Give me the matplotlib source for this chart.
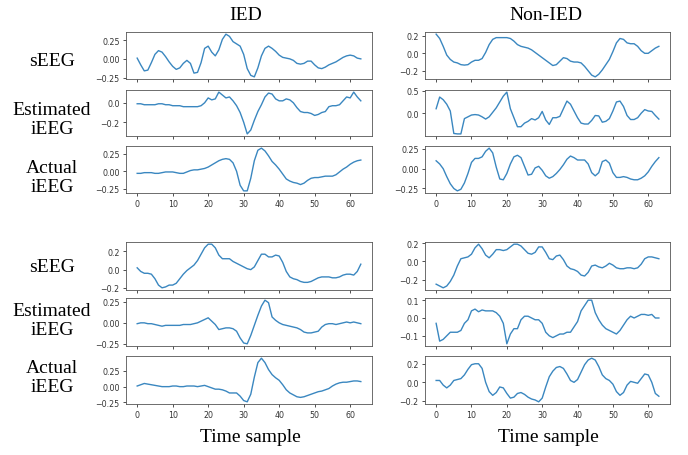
import matplotlib
matplotlib.use("Agg")
import matplotlib.pyplot as plt
import numpy as np

# ── Data: 64-sample traces ───────────────────────────────────────────────────
t = np.arange(64)

ied_seeg_1 = [0.01, -0.08, -0.16, -0.15, -0.05, 0.06, 0.11, 0.09, 0.03, -0.04,
              -0.10, -0.14, -0.12, -0.06, -0.02, -0.06, -0.19, -0.18, -0.05, 0.14,
              0.17, 0.09, 0.04, 0.12, 0.26, 0.33, 0.30, 0.23, 0.20, 0.17,
              0.06, -0.13, -0.22, -0.24, -0.12, 0.04, 0.14, 0.17, 0.14, 0.10,
              0.05, 0.02, 0.01, 0.00, -0.02, -0.06, -0.07, -0.06, -0.03, -0.03,
              -0.08, -0.12, -0.13, -0.11, -0.08, -0.06, -0.04, -0.01, 0.02, 0.04,
              0.05, 0.04, 0.01, 0.00]
non_seeg_1 = [0.22, 0.17, 0.08, -0.02, -0.07, -0.10, -0.11, -0.13, -0.135, -0.13,
              -0.10, -0.08, -0.08, -0.06, 0.01, 0.10, 0.16, 0.18, 0.18, 0.18,
              0.18, 0.17, 0.14, 0.10, 0.08, 0.07, 0.06, 0.04, 0.01, -0.02,
              -0.05, -0.08, -0.11, -0.14, -0.13, -0.09, -0.05, -0.06, -0.09, -0.10,
              -0.10, -0.11, -0.15, -0.20, -0.25, -0.27, -0.24, -0.19, -0.13, -0.07,
              0.02, 0.12, 0.17, 0.16, 0.12, 0.11, 0.11, 0.08, 0.03, 0.00,
              0.00, 0.03, 0.06, 0.08]
ied_est_1 = [-0.01, -0.01, -0.02, -0.02, -0.02, -0.02, -0.01, -0.01, -0.02, -0.02,
             -0.03, -0.03, -0.03, -0.04, -0.04, -0.04, -0.04, -0.04, -0.03, 0.00,
             0.05, 0.03, 0.04, 0.11, 0.08, 0.05, 0.06, 0.02, -0.03, -0.10,
             -0.20, -0.32, -0.28, -0.18, -0.09, -0.02, 0.06, 0.10, 0.09, 0.04,
             0.02, 0.02, 0.04, 0.03, 0.00, -0.05, -0.09, -0.10, -0.10, -0.11,
             -0.13, -0.12, -0.10, -0.09, -0.04, -0.03, -0.03, -0.02, 0.02, 0.06,
             0.05, 0.11, 0.06, 0.02]
non_est_1 = [0.10, 0.36, 0.30, 0.20, 0.05, -0.45, -0.46, -0.46, -0.12, -0.08,
             -0.04, -0.03, -0.04, -0.08, -0.13, -0.08, 0.02, 0.12, 0.25, 0.38,
             0.47, 0.10, -0.10, -0.30, -0.30, -0.22, -0.18, -0.12, -0.15, -0.10,
             0.04, -0.15, -0.25, -0.10, -0.10, -0.07, 0.10, 0.27, 0.20, 0.05,
             -0.10, -0.22, -0.24, -0.24, -0.16, -0.05, -0.06, -0.20, -0.18, -0.12,
             0.05, 0.25, 0.27, 0.15, -0.05, -0.14, -0.14, -0.10, 0.00, 0.08,
             0.05, 0.04, -0.05, -0.13]
ied_act_1 = [-0.03, -0.03, -0.02, -0.02, -0.02, -0.03, -0.03, -0.02, -0.01, -0.01,
             -0.01, -0.02, -0.03, -0.03, -0.01, 0.01, 0.02, 0.02, 0.03, 0.04,
             0.06, 0.09, 0.12, 0.15, 0.17, 0.18, 0.17, 0.12, 0.00, -0.20,
             -0.28, -0.28, -0.10, 0.15, 0.30, 0.33, 0.29, 0.22, 0.14, 0.09,
             0.03, -0.04, -0.11, -0.14, -0.16, -0.17, -0.19, -0.17, -0.13, -0.10,
             -0.09, -0.09, -0.08, -0.07, -0.07, -0.07, -0.05, -0.01, 0.03, 0.06,
             0.10, 0.13, 0.15, 0.16]
non_act_1 = [0.10, 0.06, 0.00, -0.10, -0.19, -0.25, -0.28, -0.26, -0.18, -0.06,
             0.08, 0.13, 0.13, 0.15, 0.22, 0.26, 0.20, 0.02, -0.13, -0.14,
             -0.06, 0.06, 0.15, 0.17, 0.14, 0.03, -0.08, -0.07, 0.01, 0.03,
             -0.02, -0.09, -0.12, -0.10, -0.06, -0.01, 0.05, 0.12, 0.16, 0.14,
             0.11, 0.11, 0.11, 0.06, -0.05, -0.09, -0.05, 0.09, 0.11, 0.07,
             -0.05, -0.11, -0.11, -0.10, -0.11, -0.13, -0.14, -0.14, -0.12, -0.09,
             -0.04, 0.03, 0.09, 0.14]

ied_seeg_2 = [0.02, -0.02, -0.04, -0.04, -0.05, -0.10, -0.17, -0.20, -0.19, -0.17,
              -0.17, -0.15, -0.10, -0.05, -0.01, 0.02, 0.05, 0.10, 0.17, 0.24,
              0.28, 0.28, 0.24, 0.16, 0.12, 0.12, 0.12, 0.09, 0.07, 0.05,
              0.03, 0.01, 0.00, 0.03, 0.10, 0.17, 0.17, 0.14, 0.14, 0.16,
              0.15, 0.08, -0.02, -0.08, -0.10, -0.11, -0.13, -0.14, -0.14, -0.13,
              -0.11, -0.09, -0.08, -0.08, -0.08, -0.09, -0.09, -0.08, -0.06, -0.05,
              -0.05, -0.06, -0.02, 0.06]
non_seeg_2 = [-0.25, -0.27, -0.29, -0.27, -0.22, -0.15, -0.05, 0.03, 0.04, 0.05,
              0.08, 0.15, 0.19, 0.14, 0.07, 0.04, 0.08, 0.13, 0.13, 0.12,
              0.13, 0.16, 0.19, 0.19, 0.17, 0.13, 0.09, 0.08, 0.10, 0.16,
              0.16, 0.10, 0.03, 0.02, 0.06, 0.07, 0.02, -0.05, -0.08, -0.09,
              -0.11, -0.15, -0.16, -0.12, -0.05, -0.04, -0.06, -0.07, -0.05, -0.02,
              -0.04, -0.07, -0.08, -0.08, -0.07, -0.07, -0.08, -0.07, -0.03, 0.03,
              0.05, 0.05, 0.04, 0.03]
ied_est_2 = [-0.01, 0.00, 0.00, -0.01, -0.01, -0.02, -0.03, -0.04, -0.03, -0.03,
             -0.03, -0.03, -0.03, -0.02, -0.02, -0.02, -0.01, 0.00, 0.02, 0.04,
             0.06, 0.02, -0.02, -0.08, -0.07, -0.06, -0.06, -0.07, -0.10, -0.18,
             -0.24, -0.25, -0.15, -0.03, 0.09, 0.20, 0.27, 0.24, 0.07, 0.03,
             0.00, -0.02, -0.03, -0.04, -0.05, -0.06, -0.08, -0.11, -0.12, -0.12,
             -0.11, -0.10, -0.05, -0.02, -0.01, -0.01, -0.02, -0.01, 0.00, 0.01,
             0.00, 0.01, 0.00, -0.01]
non_est_2 = [-0.03, -0.13, -0.12, -0.10, -0.08, -0.08, -0.08, -0.07, -0.03, -0.01,
             0.04, 0.05, 0.035, 0.045, 0.04, 0.04, 0.04, 0.03, 0.01, -0.03,
             -0.145, -0.09, -0.06, -0.06, -0.01, 0.01, 0.01, 0.00, -0.01, -0.01,
             -0.03, -0.08, -0.10, -0.11, -0.10, -0.09, -0.09, -0.08, -0.08, -0.05,
             -0.02, 0.04, 0.07, 0.10, 0.10, 0.03, -0.01, -0.04, -0.06, -0.07,
             -0.08, -0.09, -0.07, -0.04, -0.01, 0.01, 0.00, 0.01, 0.02, 0.02,
             0.015, 0.02, 0.00, 0.00]
ied_act_2 = [0.01, 0.03, 0.05, 0.04, 0.03, 0.02, 0.01, 0.00, 0.00, 0.00,
             0.01, 0.01, 0.00, 0.00, 0.01, 0.01, 0.01, 0.00, 0.01, 0.02,
             0.00, -0.02, -0.04, -0.04, -0.05, -0.07, -0.10, -0.10, -0.10, -0.15,
             -0.22, -0.24, -0.12, 0.15, 0.38, 0.45, 0.38, 0.27, 0.19, 0.14,
             0.10, 0.03, -0.05, -0.10, -0.13, -0.16, -0.17, -0.16, -0.14, -0.12,
             -0.10, -0.08, -0.07, -0.05, -0.03, 0.01, 0.04, 0.06, 0.07, 0.07,
             0.08, 0.09, 0.09, 0.08]
non_act_2 = [0.02, 0.02, -0.03, -0.06, -0.03, 0.02, 0.03, 0.04, 0.08, 0.14,
             0.19, 0.20, 0.20, 0.15, 0.00, -0.10, -0.14, -0.11, -0.05, -0.06,
             -0.12, -0.17, -0.16, -0.12, -0.11, -0.13, -0.16, -0.18, -0.19, -0.21,
             -0.17, -0.05, 0.06, 0.12, 0.16, 0.17, 0.15, 0.09, 0.02, 0.00,
             0.03, 0.11, 0.19, 0.24, 0.26, 0.24, 0.17, 0.08, 0.04, 0.02,
             -0.02, -0.10, -0.14, -0.11, -0.03, 0.01, 0.00, -0.01, 0.04, 0.09,
             0.08, 0.00, -0.12, -0.15]

rows = [
    (ied_seeg_1, non_seeg_1), (ied_est_1, non_est_1), (ied_act_1, non_act_1),
    (ied_seeg_2, non_seeg_2), (ied_est_2, non_est_2), (ied_act_2, non_act_2),
]
yticks = [
    ([-0.25, 0, 0.25], [-0.2, 0, 0.2]),
    ([-0.2, 0.0], [0.0, 0.5]),
    ([-0.25, 0, 0.25], [-0.25, 0, 0.25]),
    ([-0.2, 0, 0.2], [-0.2, 0, 0.2]),
    ([-0.25, 0, 0.25], [-0.1, 0, 0.1]),
    ([-0.25, 0, 0.25], [-0.2, 0, 0.2]),
]
row_labels = ["sEEG", "Estimated\niEEG", "Actual\niEEG"] * 2

# ── Layout (pixel boxes: top, bottom) ────────────────────────────────────────
W, H = 688, 456
row_px = [(33, 80), (91, 137), (147, 194), (243, 291), (299, 347), (357, 405)]
col_px = [(126, 372), (425, 670)]
label_y = [62, 120, 178, 267, 321, 378]

serif = ["Liberation Serif", "DejaVu Serif"]
fig = plt.figure(figsize=(W / 100, H / 100), dpi=100)

for r, (top, bot) in enumerate(row_px):
    for c, (left, right) in enumerate(col_px):
        ax = fig.add_axes([left / W, 1 - bot / H, (right - left) / W, (bot - top) / H])
        ax.plot(t, rows[r][c], color="#3a87c0", lw=1.0)
        ax.set_xticks([0, 10, 20, 30, 40, 50, 60])
        ax.set_yticks(yticks[r][c])
        ax.tick_params(labelsize=5.7, length=2.5, width=0.6, pad=2, colors="#333333")
        if r not in (2, 5):
            ax.tick_params(labelbottom=False)
        for s in ax.spines.values():
            s.set_linewidth(0.6)
            s.set_color("#555555")
    fig.text(52 / W, 1 - label_y[r] / H, row_labels[r], family=serif, fontsize=14,
             ha="center", va="center", linespacing=1.2)

fig.text(246 / W, 1 - 16 / H, "IED", family=serif, fontsize=14, ha="center", va="center")
fig.text(546 / W, 1 - 16 / H, "Non-IED", family=serif, fontsize=14, ha="center", va="center")
fig.text(250 / W, 1 - 438 / H, "Time sample", family=serif, fontsize=14, ha="center", va="center")
fig.text(548 / W, 1 - 438 / H, "Time sample", family=serif, fontsize=14, ha="center", va="center")

fig.savefig("out.png", dpi=100)
